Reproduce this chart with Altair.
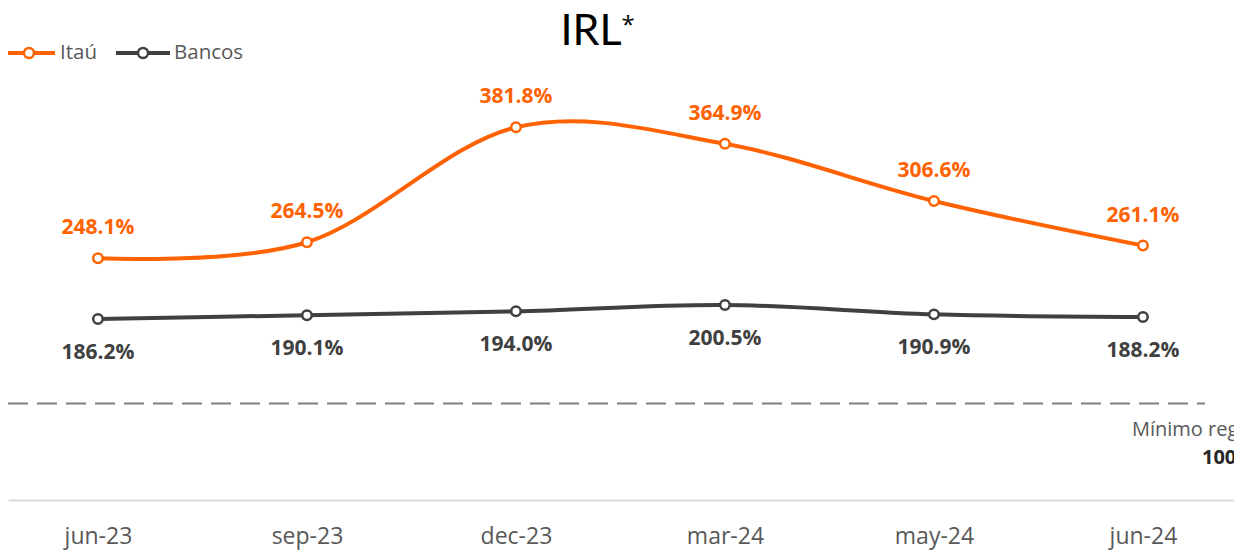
import altair as alt
import pandas as pd

periods = ["jun-23", "sep-23", "dec-23", "mar-24", "may-24", "jun-24"]
itau = [248.1, 264.5, 381.8, 364.9, 306.6, 261.1]
bancos = [186.2, 190.1, 194.0, 200.5, 190.9, 188.2]
series_names = ["Itaú", "Bancos"]
series_colors = ["#FF6200", "#404040"]
minimo = 100
minimo_label = "Mínimo regulatorio"
minimo_value = "100%"

rows = []
for name, vals in zip(series_names, [itau, bancos]):
    for p, v in zip(periods, vals):
        rows.append({"period": p, "series": name, "value": v, "label": f"{v:.1f}%"})
df = pd.DataFrame(rows)

FONT = "Open Sans"
W, H = 1226, 492

x_enc = alt.X("period:N", sort=periods,
              scale=alt.Scale(type="point", padding=0.433, align=0.497),
              axis=alt.Axis(title=None, labelAngle=0, ticks=False, tickSize=0, grid=False,
                            domainColor="#d9d9d9", domainWidth=2,
                            labelFont=FONT, labelFontSize=23, labelColor="#595959",
                            labelPadding=25))
y_scale = alt.Scale(domain=[1.5, 503.5], nice=False, zero=False)
y_enc = alt.Y("value:Q", scale=y_scale, axis=None)
color_scale = alt.Scale(domain=series_names, range=series_colors)

base = alt.Chart(df)

lines = base.mark_line(interpolate="cardinal", strokeWidth=4).encode(
    x=x_enc, y=y_enc,
    color=alt.Color("series:N", scale=color_scale, legend=None),
)

points = base.mark_point(shape="circle", filled=False, fill="white", fillOpacity=1,
                         size=90, strokeWidth=2.5, opacity=1).encode(
    x=x_enc, y=y_enc,
    color=alt.Color("series:N", scale=color_scale, legend=None),
)

lab_itau = base.transform_filter(alt.datum.series == "Itaú").mark_text(
    dy=-30, font=FONT, fontSize=21, fontWeight="bold").encode(
    x=x_enc, y=y_enc, text="label:N",
    color=alt.Color("series:N", scale=color_scale, legend=None),
)
lab_bancos = base.transform_filter(alt.datum.series == "Bancos").mark_text(
    dy=34, font=FONT, fontSize=21, fontWeight="bold").encode(
    x=x_enc, y=y_enc, text="label:N",
    color=alt.Color("series:N", scale=color_scale, legend=None),
)

min_df = pd.DataFrame({"value": [minimo], "t1": [minimo_label], "t2": [minimo_value]})
rule = alt.Chart(min_df).mark_rule(color="#7f7f7f", strokeWidth=2, strokeDash=[20, 9]).encode(
    y=alt.Y("value:Q", scale=y_scale, axis=None),
    x=alt.value(0), x2=alt.value(1197),
)
min_t1 = alt.Chart(min_df).mark_text(align="left", dy=27, font=FONT, fontSize=20,
                                     color="#595959").encode(
    y=alt.Y("value:Q", scale=y_scale, axis=None), x=alt.value(1124), text="t1:N")
min_t2 = alt.Chart(min_df).mark_text(align="left", dy=55, font=FONT, fontSize=20,
                                     fontWeight="bold", color="#262626").encode(
    y=alt.Y("value:Q", scale=y_scale, axis=None), x=alt.value(1194), text="t2:N")

title_df = pd.DataFrame({"a": ["IRL"], "b": ["*"]})
title1 = alt.Chart(title_df).mark_text(font="Lato", fontSize=43, color="#000000",
                                       baseline="alphabetic", align="center").encode(
    x=alt.value(583), y=alt.value(37), text="a:N")
title2 = alt.Chart(title_df).mark_text(font="Open Sans", fontSize=24, color="#000000",
                                       baseline="alphabetic", align="center").encode(
    x=alt.value(620), y=alt.value(25), text="b:N")


def legend_entry(name, color, x0, x1, xc, xt, y=45):
    d = alt.Chart(pd.DataFrame({"name": [name]}))
    ln = d.mark_rule(color=color, strokeWidth=4).encode(
        x=alt.value(x0), x2=alt.value(x1), y=alt.value(y))
    pt = d.mark_point(shape="circle", filled=False, fill="white", fillOpacity=1,
                      color=color, size=100, strokeWidth=2.5, opacity=1).encode(
        x=alt.value(xc), y=alt.value(y))
    tx = d.mark_text(align="left", baseline="middle", font=FONT, fontSize=20.5,
                     color="#595959").encode(
        x=alt.value(xt), y=alt.value(y), text="name:N")
    return [ln, pt, tx]


leg = (legend_entry(series_names[0], series_colors[0], 0, 47, 21, 52)
       + legend_entry(series_names[1], series_colors[1], 108, 162, 135, 166))

chart = alt.layer(rule, lines, points, lab_itau, lab_bancos, min_t1, min_t2,
                  title1, title2, *leg).properties(
    width=W, height=H,
    autosize=alt.AutoSizeParams(type="none"),
    padding={"left": 0, "top": 0, "right": 0, "bottom": 54},
).configure_view(stroke=None)

chart.save("out.html", embed_options={"renderer": "svg", "actions": False})
